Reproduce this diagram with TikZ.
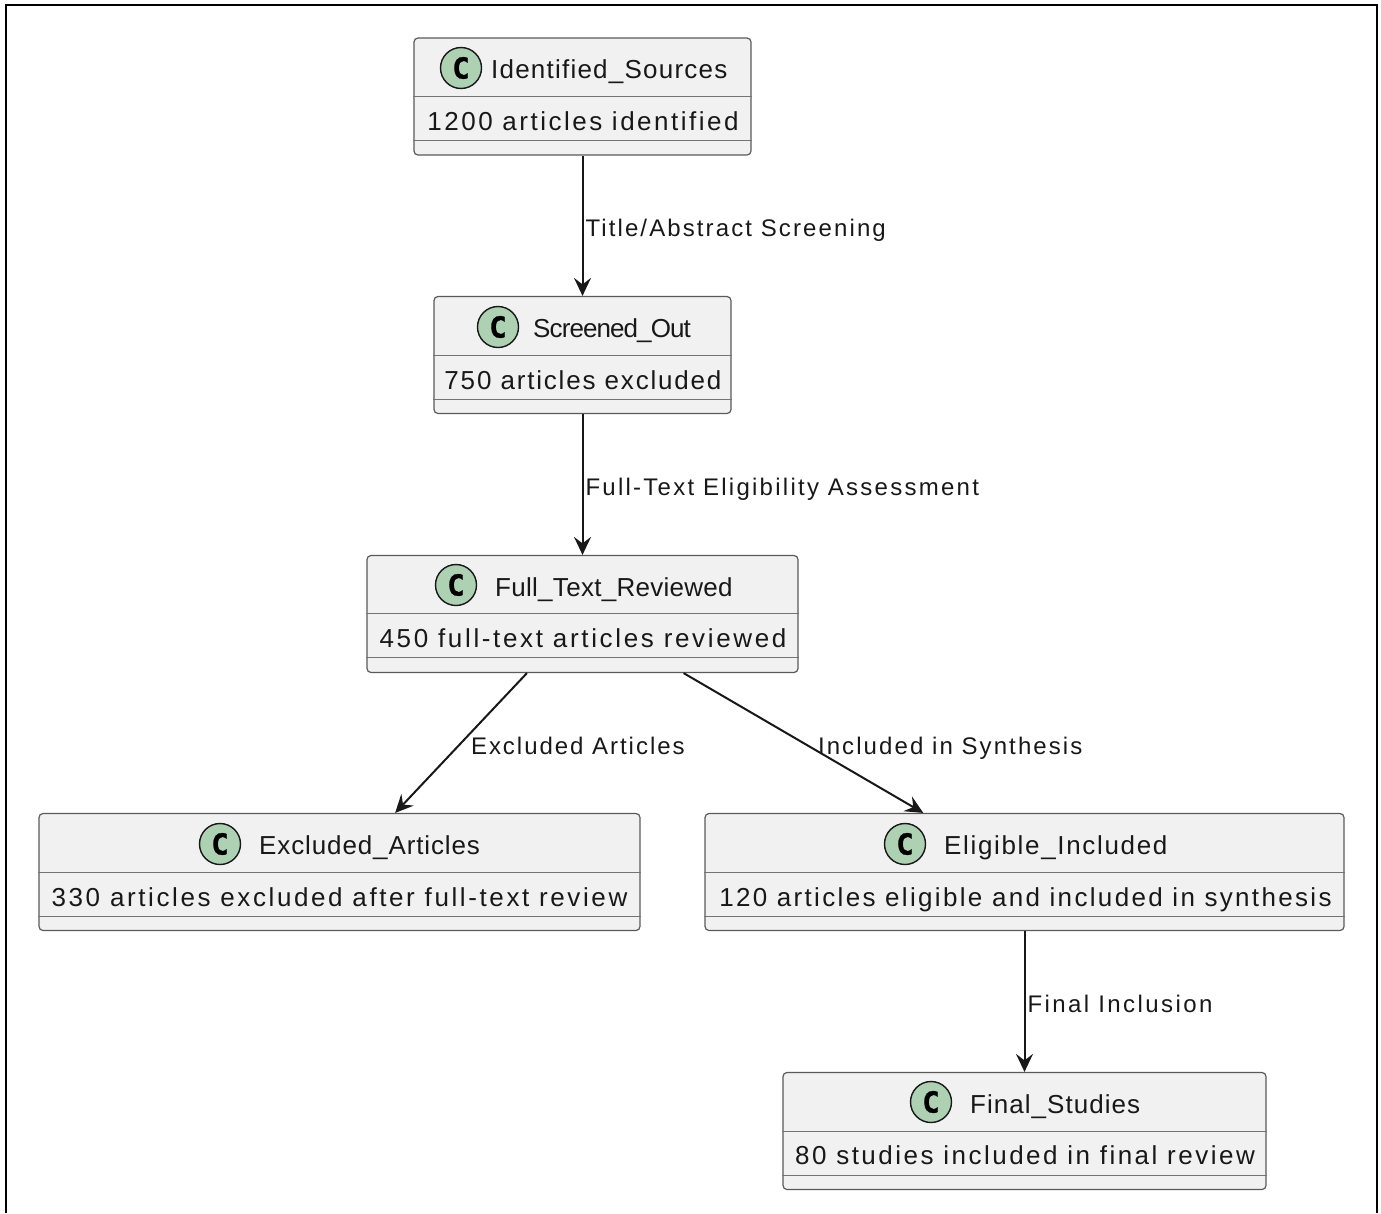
\documentclass[tikz,border=0pt]{standalone}
\usepackage{fontspec}
\setmainfont{Liberation Sans}
\newfontfamily\markfont[UprightFont=* Bold, FakeBold=1]{DejaVu Sans Mono}
\usetikzlibrary{arrows.meta}
\definecolor{boxfill}{HTML}{F1F1F1}
\definecolor{boxline}{HTML}{5A5A5A}
\definecolor{markfill}{HTML}{ADD1B2}
\definecolor{inkline}{HTML}{181818}
\begin{document}
\begin{tikzpicture}[%
            x=1pt, y=-1pt,
            classbox/.style={shape=rectangle, rounded corners=4pt, draw=boxline, fill=boxfill, line width=1.2pt, minimum height=117pt, inner sep=0pt},
            classmark/.style={shape=circle, draw=inkline, fill=markfill, line width=1.4pt, minimum size=41pt, inner sep=0pt, font=\markfont\fontsize{29}{29}\selectfont},
            classtitle/.style={anchor=base west, inner sep=0pt, text=inkline, font=\fontsize{26}{30}\selectfont\addfontfeature{LetterSpace=#1}},
            classbody/.style={anchor=base, inner sep=0pt, text=inkline, font=\fontsize{26}{30}\selectfont\addfontfeature{LetterSpace=#1}},
            sepline/.style={draw=boxline!85, line width=1.1pt},
            flowarrow/.style={draw=inkline, line width=2pt, -{Stealth[length=18pt,width=17pt,inset=6.5pt]}},
            flowlabel/.style={pos=0.515, anchor=base west, yshift=-9pt, inner sep=0pt, text=inkline, font=\fontsize{24}{28}\selectfont\addfontfeature{LetterSpace=#1}}
        ]
        \useasboundingbox (0,0) rectangle (1381,1213);
        \draw [line width=2.4pt, black] (6,1213) -- (6,5) -- (1377,5) -- (1377,1213);

        % top of the flow
        \node [classbox, minimum width=337pt] (sources) at (582.5,96.5) {};
        \node [classmark] (sourcesmark) at (461,68) {C};
        \node [classtitle=4.7] (sourcestitle) at (491,78) {Identified\_Sources};
        \node [classbody=9.6] (sourcesbody) at (583,130.5) {1200 articles identified};
        \draw [sepline] ([yshift=-59.5pt]sources.north west) -- ([yshift=-59.5pt]sources.north east);
        \draw [sepline] ([yshift=15pt]sources.south west) -- ([yshift=15pt]sources.south east);

        \node [classbox, minimum width=297pt] (screened) at (582.5,355) {};
        \node [classmark] (screenedmark) at (498,327) {C};
        \node [classtitle=-3.5] (screenedtitle) at (533,337) {Screened\_Out};
        \node [classbody=7] (screenedbody) at (583,389.5) {750 articles excluded};
        \draw [sepline] ([yshift=-60pt]screened.north west) -- ([yshift=-60pt]screened.north east);
        \draw [sepline] ([yshift=15pt]screened.south west) -- ([yshift=15pt]screened.south east);

        \node [classbox, minimum width=431pt] (fulltext) at (582.5,614) {};
        \node [classmark] (fulltextmark) at (456,585) {C};
        \node [classtitle=1.1] (fulltexttitle) at (495,596) {Full\_Text\_Reviewed};
        \node [classbody=10.2] (fulltextbody) at (583,647) {450 full-text articles reviewed};
        \draw [sepline] ([yshift=-59pt]fulltext.north west) -- ([yshift=-59pt]fulltext.north east);
        \draw [sepline] ([yshift=16pt]fulltext.south west) -- ([yshift=16pt]fulltext.south east);

        % the two branches
        \node [classbox, minimum width=601pt] (excluded) at (339.5,872) {};
        \node [classmark] (excludedmark) at (220,844) {C};
        \node [classtitle=3.4] (excludedtitle) at (259,854) {Excluded\_Articles};
        \node [classbody=10] (excludedbody) at (339.5,906.5) {330 articles excluded after full-text review};
        \draw [sepline] ([yshift=-60pt]excluded.north west) -- ([yshift=-60pt]excluded.north east);
        \draw [sepline] ([yshift=15pt]excluded.south west) -- ([yshift=15pt]excluded.south east);

        \node [classbox, minimum width=639pt] (eligible) at (1024.5,872) {};
        \node [classmark] (eligiblemark) at (905,844) {C};
        \node [classtitle=6.4] (eligibletitle) at (944,854) {Eligible\_Included};
        \node [classbody=9] (eligiblebody) at (1025.5,906.5) {120 articles eligible and included in synthesis};
        \draw [sepline] ([yshift=-60pt]eligible.north west) -- ([yshift=-60pt]eligible.north east);
        \draw [sepline] ([yshift=15pt]eligible.south west) -- ([yshift=15pt]eligible.south east);

        \node [classbox, minimum width=483pt] (final) at (1024.5,1131) {};
        \node [classmark] (finalmark) at (931,1102) {C};
        \node [classtitle=4] (finaltitle) at (970,1113) {Final\_Studies};
        \node [classbody=9.6] (finalbody) at (1025,1164) {80 studies included in final review};
        \draw [sepline] ([yshift=-60pt]final.north west) -- ([yshift=-60pt]final.north east);
        \draw [sepline] ([yshift=15pt]final.south west) -- ([yshift=15pt]final.south east);

        % connectors
        \draw [flowarrow] (sources) -- node [flowlabel=8.8, xshift=2pt] (screenlabel) {Title/Abstract Screening} (screened);
        \draw [flowarrow] (screened) -- node [flowlabel=9.4, xshift=2pt] (assesslabel) {Full-Text Eligibility Assessment} (fulltext);
        \draw [flowarrow] (fulltext) -- node [flowlabel=8.2, xshift=11pt] (excludelabel) {Excluded Articles} (excluded);
        \draw [flowarrow] (fulltext) -- node [flowlabel=8.7, xshift=10pt] (includelabel) {Included in Synthesis} (eligible);
        \draw [flowarrow] (eligible) -- node [flowlabel=10.1, xshift=2pt] (finallabel) {Final Inclusion} (final);
\end{tikzpicture}
\end{document}
